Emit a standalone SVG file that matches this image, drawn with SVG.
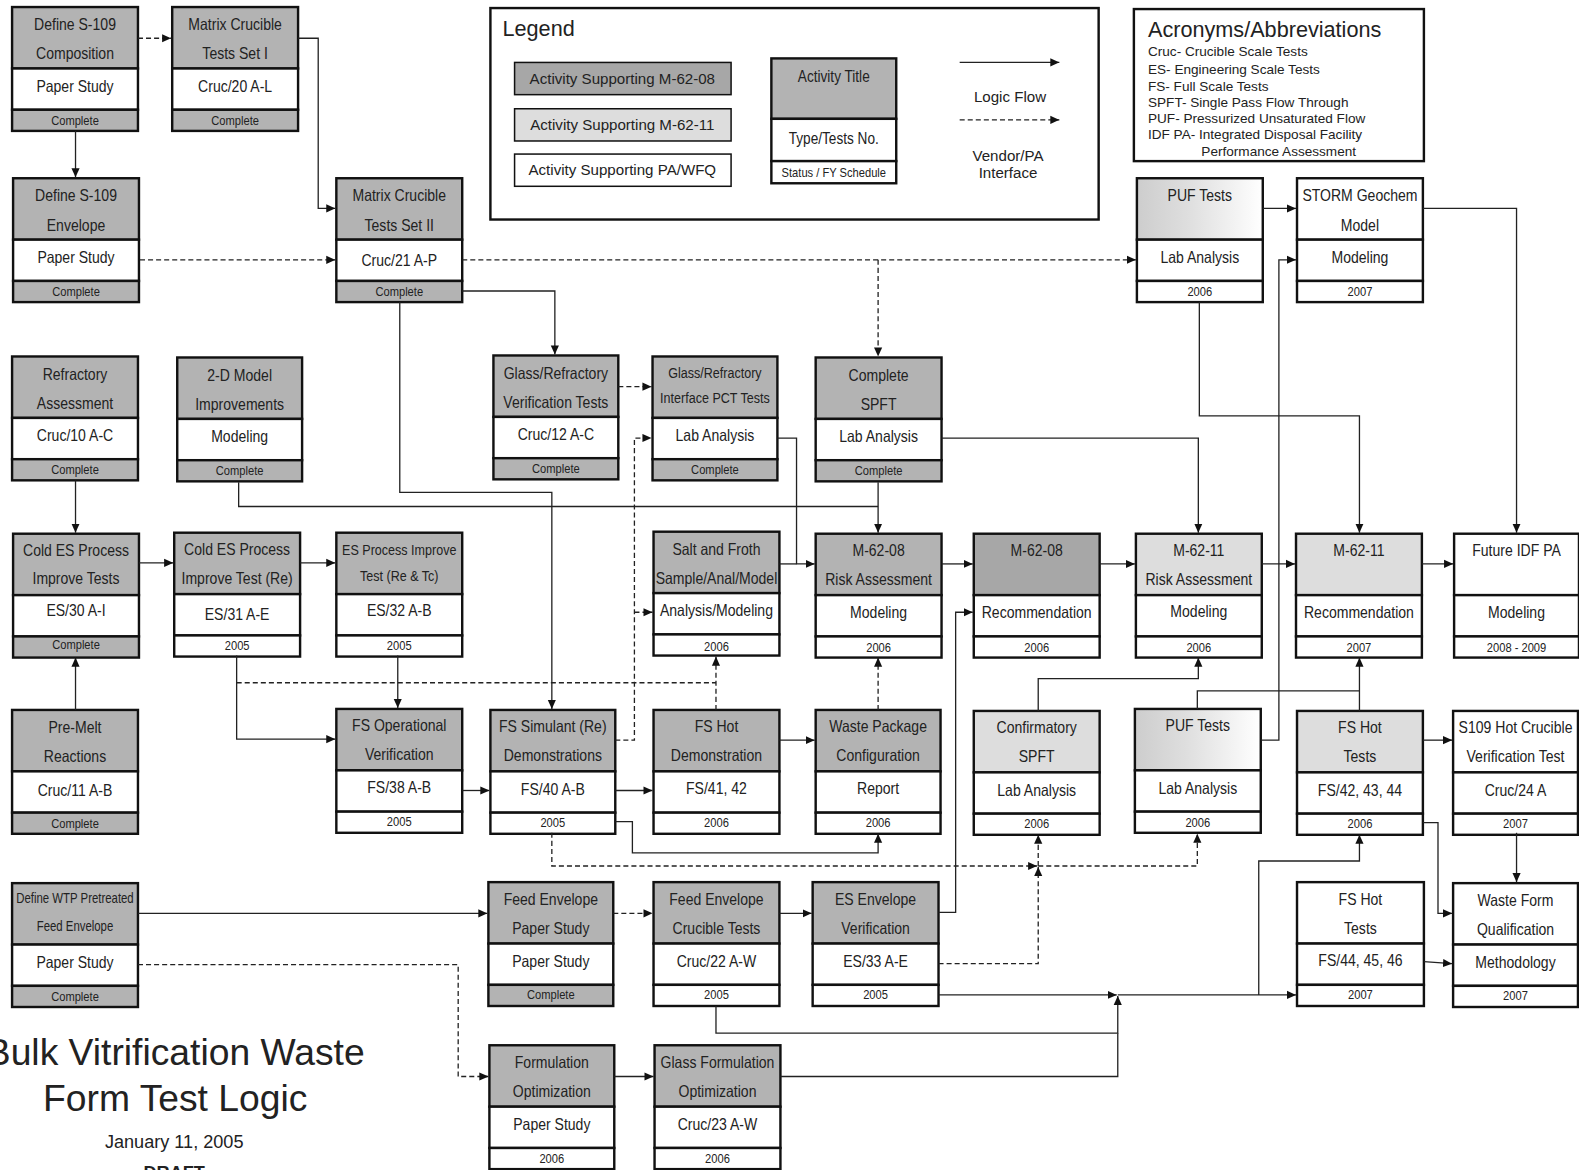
<svg xmlns="http://www.w3.org/2000/svg" width="1579" height="1170" viewBox="0 0 1579 1170">
<defs>
<linearGradient id="puf" x1="0" y1="0" x2="1" y2="0">
<stop offset="0" stop-color="#cdcdcd"/><stop offset="0.4" stop-color="#dedede"/><stop offset="1" stop-color="#ffffff"/>
</linearGradient>
<marker id="ah" viewBox="0 0 10 10" refX="10" refY="5" markerWidth="9" markerHeight="9" markerUnits="userSpaceOnUse" orient="auto"><path d="M0,0.5 L10,5 L0,9.5 z" fill="#111"/></marker>
<style>
rect{stroke:#111;stroke-width:2.4}
.dk{fill:#b3b3b3}.dd{fill:#a7a7a7}.lt{fill:#dddddd}.wh{fill:#ffffff}.gr{fill:url(#puf)}
text{fill:#222}
.t,.t15,.t14,.st{font-family:'Liberation Sans',Arial,sans-serif;text-anchor:middle}
.t{font-size:17px}.t15{font-size:15.2px}.t14{font-size:13.8px}.st{font-size:13.5px}
.a{font-family:'Liberation Sans',Arial,sans-serif}
.c path{fill:none;stroke:#222;stroke-width:1.3;marker-end:url(#ah)}
.c path.n{marker-end:none}
.c path.d{stroke-dasharray:5,3}
</style>
</defs>
<rect x="0" y="0" width="1579" height="1170" style="fill:#fff;stroke:none"/>
<g transform="scale(1.007)">

<g id="legend">
<rect x="487" y="8" width="604" height="210" class="wh"/>
<text class="a" x="499" y="36" font-size="21.5">Legend</text>
<rect x="511" y="62" width="215" height="32" class="dd" style="stroke-width:1.5"/>
<text class="a" x="618" y="83" font-size="15" text-anchor="middle">Activity Supporting M-62-08</text>
<rect x="511" y="108" width="215" height="32" class="lt" style="stroke-width:1.5"/>
<text class="a" x="618" y="129" font-size="15" text-anchor="middle">Activity Supporting M-62-11</text>
<rect x="511" y="153" width="215" height="32" class="wh" style="stroke-width:1.5"/>
<text class="a" x="618" y="174" font-size="15" text-anchor="middle">Activity Supporting PA/WFQ</text>
<g id="legend-node" transform="translate(766,58)">
<rect width="124" height="60" class="dk"/><rect y="60" width="124" height="42" class="wh"/><rect y="102" width="124" height="22" class="wh"/>
<g transform="scale(0.82,1)">
<text class="t" x="75.6" y="23" style="font-size:16.5px">Activity Title</text>
<text class="t" x="75.6" y="85" style="font-size:16.5px">Type/Tests No.</text>
<text class="st" x="75.6" y="118">Status / FY Schedule</text>
</g>
</g>
<g class="c"><path d="M953,62 H1052"/><path class="d" d="M953,119 H1052"/></g>
<text class="a" x="1003" y="101" font-size="15" text-anchor="middle">Logic Flow</text>
<text class="a" x="1001" y="160" font-size="15" text-anchor="middle">Vendor/PA</text>
<text class="a" x="1001" y="177" font-size="15" text-anchor="middle">Interface</text>
</g>

<g id="acronyms">
<rect x="1126" y="9" width="288" height="151" class="wh"/>
<text class="a" x="1140" y="37" font-size="21.5">Acronyms/Abbreviations</text>
<g class="a" font-size="13.5">
<text x="1140" y="56">Cruc- Crucible Scale Tests</text>
<text x="1140" y="73">ES- Engineering Scale Tests</text>
<text x="1140" y="90">FS- Full Scale Tests</text>
<text x="1140" y="106">SPFT- Single Pass Flow Through</text>
<text x="1140" y="122">PUF- Pressurized Unsaturated Flow</text>
<text x="1140" y="138">IDF PA- Integrated Disposal Facility</text>
<text x="1193" y="155">Performance Assessment</text>
</g>
</g>

<g id="title" class="a" text-anchor="middle">
<text x="174" y="1058" font-size="37">Bulk Vitrification Waste</text>
<text x="174" y="1103" font-size="37">Form Test Logic</text>
<text x="173" y="1140" font-size="18">January 11, 2005</text>
<text x="173" y="1171" font-size="18" font-weight="bold">DRAFT</text>
</g>

<g id="nodes">
<g id="n1" transform="translate(12,7)"><rect width="125" height="61" class="dk"/><rect y="61" width="125" height="41" class="wh"/><rect y="102" width="125" height="21" class="dk"/>
<g transform="scale(0.82,1)"><text class="t" x="76.2" y="23">Define S-109</text><text class="t" x="76.2" y="52">Composition</text><text class="t" x="76.2" y="84">Paper Study</text><text class="st" x="76.2" y="117">Complete</text></g></g>
<g id="n2" transform="translate(171,7)"><rect width="125" height="61" class="dk"/><rect y="61" width="125" height="41" class="wh"/><rect y="102" width="125" height="21" class="dk"/>
<g transform="scale(0.82,1)"><text class="t" x="76.2" y="23">Matrix Crucible</text><text class="t" x="76.2" y="52">Tests Set I</text><text class="t" x="76.2" y="84">Cruc/20 A-L</text><text class="st" x="76.2" y="117">Complete</text></g></g>
<g id="n3" transform="translate(13,177)"><rect width="125" height="61" class="dk"/><rect y="61" width="125" height="41" class="wh"/><rect y="102" width="125" height="21" class="dk"/>
<g transform="scale(0.82,1)"><text class="t" x="76.2" y="23">Define S-109</text><text class="t" x="76.2" y="52">Envelope</text><text class="t" x="76.2" y="84">Paper Study</text><text class="st" x="76.2" y="117">Complete</text></g></g>
<g id="n4" transform="translate(334,177)"><rect width="125" height="61" class="dk"/><rect y="61" width="125" height="41" class="wh"/><rect y="102" width="125" height="21" class="dk"/>
<g transform="scale(0.82,1)"><text class="t" x="76.2" y="23">Matrix Crucible</text><text class="t" x="76.2" y="52">Tests Set II</text><text class="t" x="76.2" y="87">Cruc/21 A-P</text><text class="st" x="76.2" y="117">Complete</text></g></g>
<g id="n5" transform="translate(1129,177)"><rect width="125" height="61" class="gr"/><rect y="61" width="125" height="41" class="wh"/><rect y="102" width="125" height="21" class="wh"/>
<g transform="scale(0.82,1)"><text class="t" x="76.2" y="23">PUF Tests</text><text class="t" x="76.2" y="84">Lab Analysis</text><text class="st" x="76.2" y="117">2006</text></g></g>
<g id="n6" transform="translate(1288,177)"><rect width="125" height="61" class="wh"/><rect y="61" width="125" height="41" class="wh"/><rect y="102" width="125" height="21" class="wh"/>
<g transform="scale(0.82,1)"><text class="t" x="76.2" y="23">STORM Geochem</text><text class="t" x="76.2" y="52">Model</text><text class="t" x="76.2" y="84">Modeling</text><text class="st" x="76.2" y="117">2007</text></g></g>
<g id="n7" transform="translate(12,354)"><rect width="125" height="61" class="dk"/><rect y="61" width="125" height="41" class="wh"/><rect y="102" width="125" height="21" class="dk"/>
<g transform="scale(0.82,1)"><text class="t" x="76.2" y="23">Refractory</text><text class="t" x="76.2" y="52">Assessment</text><text class="t" x="76.2" y="84">Cruc/10 A-C</text><text class="st" x="76.2" y="117">Complete</text></g></g>
<g id="n8" transform="translate(176,355)"><rect width="124" height="61" class="dk"/><rect y="61" width="124" height="41" class="wh"/><rect y="102" width="124" height="21" class="dk"/>
<g transform="scale(0.82,1)"><text class="t" x="75.6" y="23">2-D Model</text><text class="t" x="75.6" y="52">Improvements</text><text class="t" x="75.6" y="84">Modeling</text><text class="st" x="75.6" y="117">Complete</text></g></g>
<g id="n9" transform="translate(490,353)"><rect width="124" height="61" class="dk"/><rect y="61" width="124" height="41" class="wh"/><rect y="102" width="124" height="21" class="dk"/>
<g transform="scale(0.82,1)"><text class="t" x="75.6" y="23">Glass/Refractory</text><text class="t" x="75.6" y="52">Verification Tests</text><text class="t" x="75.6" y="84">Cruc/12 A-C</text><text class="st" x="75.6" y="117">Complete</text></g></g>
<g id="n10" transform="translate(648,354)"><rect width="124" height="61" class="dk"/><rect y="61" width="124" height="41" class="wh"/><rect y="102" width="124" height="21" class="dk"/>
<g transform="scale(0.82,1)"><text class="t15" x="75.6" y="21">Glass/Refractory</text><text class="t15" x="75.6" y="46">Interface PCT Tests</text><text class="t" x="75.6" y="84">Lab Analysis</text><text class="st" x="75.6" y="117">Complete</text></g></g>
<g id="n11" transform="translate(810,355)"><rect width="125" height="61" class="dk"/><rect y="61" width="125" height="41" class="wh"/><rect y="102" width="125" height="21" class="dk"/>
<g transform="scale(0.82,1)"><text class="t" x="76.2" y="23">Complete</text><text class="t" x="76.2" y="52">SPFT</text><text class="t" x="76.2" y="84">Lab Analysis</text><text class="st" x="76.2" y="117">Complete</text></g></g>
<g id="n12" transform="translate(13,530)"><rect width="125" height="61" class="dk"/><rect y="61" width="125" height="41" class="wh"/><rect y="102" width="125" height="21" class="dk"/>
<g transform="scale(0.82,1)"><text class="t" x="76.2" y="22">Cold ES Process</text><text class="t" x="76.2" y="50">Improve Tests</text><text class="t" x="76.2" y="82">ES/30 A-I</text><text class="st" x="76.2" y="114">Complete</text></g></g>
<g id="n13" transform="translate(173,529)"><rect width="125" height="61" class="dk"/><rect y="61" width="125" height="41" class="wh"/><rect y="102" width="125" height="21" class="wh"/>
<g transform="scale(0.82,1)"><text class="t" x="76.2" y="22">Cold ES Process</text><text class="t" x="76.2" y="51">Improve Test (Re)</text><text class="t" x="76.2" y="87">ES/31 A-E</text><text class="st" x="76.2" y="116">2005</text></g></g>
<g id="n14" transform="translate(334,529)"><rect width="125" height="61" class="dk"/><rect y="61" width="125" height="41" class="wh"/><rect y="102" width="125" height="21" class="wh"/>
<g transform="scale(0.82,1)"><text class="t15" x="76.2" y="22">ES Process Improve</text><text class="t15" x="76.2" y="48">Test (Re &amp; Tc)</text><text class="t" x="76.2" y="83">ES/32 A-B</text><text class="st" x="76.2" y="116">2005</text></g></g>
<g id="n15" transform="translate(649,528)"><rect width="125" height="61" class="dk"/><rect y="61" width="125" height="41" class="wh"/><rect y="102" width="125" height="21" class="wh"/>
<g transform="scale(0.82,1)"><text class="t" x="76.2" y="23">Salt and Froth</text><text class="t" x="76.2" y="52">Sample/Anal/Model</text><text class="t" x="76.2" y="84">Analysis/Modeling</text><text class="st" x="76.2" y="118">2006</text></g></g>
<g id="n16" transform="translate(810,530)"><rect width="125" height="61" class="dk"/><rect y="61" width="125" height="41" class="wh"/><rect y="102" width="125" height="21" class="wh"/>
<g transform="scale(0.82,1)"><text class="t" x="76.2" y="22">M-62-08</text><text class="t" x="76.2" y="51">Risk Assessment</text><text class="t" x="76.2" y="84">Modeling</text><text class="st" x="76.2" y="117">2006</text></g></g>
<g id="n17" transform="translate(967,530)"><rect width="125" height="61" class="dd"/><rect y="61" width="125" height="41" class="wh"/><rect y="102" width="125" height="21" class="wh"/>
<g transform="scale(0.82,1)"><text class="t" x="76.2" y="22">M-62-08</text><text class="t" x="76.2" y="84">Recommendation</text><text class="st" x="76.2" y="117">2006</text></g></g>
<g id="n18" transform="translate(1128,530)"><rect width="125" height="61" class="lt"/><rect y="61" width="125" height="41" class="wh"/><rect y="102" width="125" height="21" class="wh"/>
<g transform="scale(0.82,1)"><text class="t" x="76.2" y="22">M-62-11</text><text class="t" x="76.2" y="51">Risk Assessment</text><text class="t" x="76.2" y="83">Modeling</text><text class="st" x="76.2" y="117">2006</text></g></g>
<g id="n19" transform="translate(1287,530)"><rect width="125" height="61" class="lt"/><rect y="61" width="125" height="41" class="wh"/><rect y="102" width="125" height="21" class="wh"/>
<g transform="scale(0.82,1)"><text class="t" x="76.2" y="22">M-62-11</text><text class="t" x="76.2" y="84">Recommendation</text><text class="st" x="76.2" y="117">2007</text></g></g>
<g id="n20" transform="translate(1444,530)"><rect width="124" height="61" class="wh"/><rect y="61" width="124" height="41" class="wh"/><rect y="102" width="124" height="21" class="wh"/>
<g transform="scale(0.82,1)"><text class="t" x="75.6" y="22">Future IDF PA</text><text class="t" x="75.6" y="84">Modeling</text><text class="st" x="75.6" y="117">2008 - 2009</text></g></g>
<g id="n21" transform="translate(12,705)"><rect width="125" height="61" class="dk"/><rect y="61" width="125" height="41" class="wh"/><rect y="102" width="125" height="21" class="dk"/>
<g transform="scale(0.82,1)"><text class="t" x="76.2" y="23">Pre-Melt</text><text class="t" x="76.2" y="52">Reactions</text><text class="t" x="76.2" y="85">Cruc/11 A-B</text><text class="st" x="76.2" y="117">Complete</text></g></g>
<g id="n22" transform="translate(334,704)"><rect width="125" height="61" class="dk"/><rect y="61" width="125" height="41" class="wh"/><rect y="102" width="125" height="21" class="wh"/>
<g transform="scale(0.82,1)"><text class="t" x="76.2" y="22">FS Operational</text><text class="t" x="76.2" y="51">Verification</text><text class="t" x="76.2" y="83">FS/38 A-B</text><text class="st" x="76.2" y="116">2005</text></g></g>
<g id="n23" transform="translate(487,705)"><rect width="124" height="61" class="dk"/><rect y="61" width="124" height="41" class="wh"/><rect y="102" width="124" height="21" class="wh"/>
<g transform="scale(0.82,1)"><text class="t" x="75.6" y="22">FS Simulant (Re)</text><text class="t" x="75.6" y="51">Demonstrations</text><text class="t" x="75.6" y="84">FS/40 A-B</text><text class="st" x="75.6" y="116">2005</text></g></g>
<g id="n24" transform="translate(649,705)"><rect width="125" height="61" class="dk"/><rect y="61" width="125" height="41" class="wh"/><rect y="102" width="125" height="21" class="wh"/>
<g transform="scale(0.82,1)"><text class="t" x="76.2" y="22">FS Hot</text><text class="t" x="76.2" y="51">Demonstration</text><text class="t" x="76.2" y="83">FS/41, 42</text><text class="st" x="76.2" y="116">2006</text></g></g>
<g id="n25" transform="translate(810,705)"><rect width="124" height="61" class="dk"/><rect y="61" width="124" height="41" class="wh"/><rect y="102" width="124" height="21" class="wh"/>
<g transform="scale(0.82,1)"><text class="t" x="75.6" y="22">Waste Package</text><text class="t" x="75.6" y="51">Configuration</text><text class="t" x="75.6" y="83">Report</text><text class="st" x="75.6" y="116">2006</text></g></g>
<g id="n26" transform="translate(967,706)"><rect width="125" height="61" class="lt"/><rect y="61" width="125" height="41" class="wh"/><rect y="102" width="125" height="21" class="wh"/>
<g transform="scale(0.82,1)"><text class="t" x="76.2" y="22">Confirmatory</text><text class="t" x="76.2" y="51">SPFT</text><text class="t" x="76.2" y="84">Lab Analysis</text><text class="st" x="76.2" y="116">2006</text></g></g>
<g id="n27" transform="translate(1127,704)"><rect width="125" height="61" class="gr"/><rect y="61" width="125" height="41" class="wh"/><rect y="102" width="125" height="21" class="wh"/>
<g transform="scale(0.82,1)"><text class="t" x="76.2" y="22">PUF Tests</text><text class="t" x="76.2" y="84">Lab Analysis</text><text class="st" x="76.2" y="117">2006</text></g></g>
<g id="n28" transform="translate(1288,706)"><rect width="125" height="61" class="lt"/><rect y="61" width="125" height="41" class="wh"/><rect y="102" width="125" height="21" class="wh"/>
<g transform="scale(0.82,1)"><text class="t" x="76.2" y="22">FS Hot</text><text class="t" x="76.2" y="51">Tests</text><text class="t" x="76.2" y="84">FS/42, 43, 44</text><text class="st" x="76.2" y="116">2006</text></g></g>
<g id="n29" transform="translate(1443,706)"><rect width="124" height="61" class="wh"/><rect y="61" width="124" height="41" class="wh"/><rect y="102" width="124" height="21" class="wh"/>
<g transform="scale(0.82,1)"><text class="t" x="75.6" y="22">S109 Hot Crucible</text><text class="t" x="75.6" y="51">Verification Test</text><text class="t" x="75.6" y="84">Cruc/24 A</text><text class="st" x="75.6" y="116">2007</text></g></g>
<g id="n30" transform="translate(12,877)"><rect width="125" height="61" class="dk"/><rect y="61" width="125" height="41" class="wh"/><rect y="102" width="125" height="21" class="dk"/>
<g transform="scale(0.82,1)"><text class="t14" x="76.2" y="20">Define WTP Pretreated</text><text class="t14" x="76.2" y="48">Feed Envelope</text><text class="t" x="76.2" y="84">Paper Study</text><text class="st" x="76.2" y="117">Complete</text></g></g>
<g id="n31" transform="translate(485,876)"><rect width="124" height="61" class="dk"/><rect y="61" width="124" height="41" class="wh"/><rect y="102" width="124" height="21" class="dk"/>
<g transform="scale(0.82,1)"><text class="t" x="75.6" y="23">Feed Envelope</text><text class="t" x="75.6" y="52">Paper Study</text><text class="t" x="75.6" y="84">Paper Study</text><text class="st" x="75.6" y="116">Complete</text></g></g>
<g id="n32" transform="translate(649,876)"><rect width="125" height="61" class="dk"/><rect y="61" width="125" height="41" class="wh"/><rect y="102" width="125" height="21" class="wh"/>
<g transform="scale(0.82,1)"><text class="t" x="76.2" y="23">Feed Envelope</text><text class="t" x="76.2" y="52">Crucible Tests</text><text class="t" x="76.2" y="84">Cruc/22 A-W</text><text class="st" x="76.2" y="116">2005</text></g></g>
<g id="n33" transform="translate(807,876)"><rect width="125" height="61" class="dk"/><rect y="61" width="125" height="41" class="wh"/><rect y="102" width="125" height="21" class="wh"/>
<g transform="scale(0.82,1)"><text class="t" x="76.2" y="23">ES Envelope</text><text class="t" x="76.2" y="52">Verification</text><text class="t" x="76.2" y="84">ES/33 A-E</text><text class="st" x="76.2" y="116">2005</text></g></g>
<g id="n34" transform="translate(1288,876)"><rect width="126" height="61" class="wh"/><rect y="61" width="126" height="41" class="wh"/><rect y="102" width="126" height="21" class="wh"/>
<g transform="scale(0.82,1)"><text class="t" x="76.8" y="23">FS Hot</text><text class="t" x="76.8" y="52">Tests</text><text class="t" x="76.8" y="83">FS/44, 45, 46</text><text class="st" x="76.8" y="116">2007</text></g></g>
<g id="n35" transform="translate(1443,877)"><rect width="124" height="61" class="wh"/><rect y="61" width="124" height="41" class="wh"/><rect y="102" width="124" height="21" class="wh"/>
<g transform="scale(0.82,1)"><text class="t" x="75.6" y="23">Waste Form</text><text class="t" x="75.6" y="52">Qualification</text><text class="t" x="75.6" y="84">Methodology</text><text class="st" x="75.6" y="116">2007</text></g></g>
<g id="n36" transform="translate(486,1038)"><rect width="124" height="61" class="dk"/><rect y="61" width="124" height="41" class="wh"/><rect y="102" width="124" height="21" class="wh"/>
<g transform="scale(0.82,1)"><text class="t" x="75.6" y="23">Formulation</text><text class="t" x="75.6" y="51">Optimization</text><text class="t" x="75.6" y="84">Paper Study</text><text class="st" x="75.6" y="117">2006</text></g></g>
<g id="n37" transform="translate(650,1038)"><rect width="125" height="61" class="dk"/><rect y="61" width="125" height="41" class="wh"/><rect y="102" width="125" height="21" class="wh"/>
<g transform="scale(0.82,1)"><text class="t" x="76.2" y="23">Glass Formulation</text><text class="t" x="76.2" y="51">Optimization</text><text class="t" x="76.2" y="84">Cruc/23 A-W</text><text class="st" x="76.2" y="117">2006</text></g></g>
</g>

<g id="connectors" class="c">
<path class="d" d="M137,38 H170"/>
<path d="M296,38 H316 V207 H333"/>
<path d="M75,130 V176"/>
<path class="d" d="M139,258 H333"/>
<path class="d" d="M459,258 H1128"/>
<path class="d" d="M872,258 V354"/>
<path d="M459,289 H551 V352"/>
<path d="M397,300 V489 H548 V704"/>
<path class="n" d="M237,479 V503 H872"/>
<path d="M872,479 V529"/>
<path d="M1254,207 H1287"/>
<path d="M1413,207 H1506 V529"/>
<path d="M1191,300 V413 H1350 V529"/>
<path d="M935,435 H1190 V529"/>
<path d="M772,435 H791 V560 H809"/>
<path class="n" d="M774,560 H791"/>
<path class="d" d="M614,384 H647"/>
<path class="d" d="M611,735 H630 V435 H647"/>
<path class="d" d="M630,608 H648"/>
<path d="M138,559 H172"/>
<path d="M298,559 H333"/>
<path d="M75,477 V529"/>
<path d="M75,705 V653"/>
<path d="M235,651 V734 H333"/>
<path class="d n" d="M235,678 H711"/>
<path class="d" d="M711,705 V652"/>
<path d="M395,651 V703"/>
<path class="d" d="M872,705 V653"/>
<path d="M459,785 H486"/>
<path d="M611,785 H648"/>
<path d="M774,735 H809"/>
<path d="M611,816 H628 V847 H872 V828"/>
<path class="d" d="M548,827 V860 H1030"/>
<path class="d" d="M1031,860 V829"/>
<path class="d" d="M1031,860 H1189 V828"/>
<path class="d" d="M932,957 H1031 V861"/>
<path d="M932,906 H949 V608 H966"/>
<path d="M935,560 H966"/>
<path d="M1092,560 H1127"/>
<path d="M1253,560 H1286"/>
<path d="M1412,560 H1443"/>
<path d="M1031,706 V674 H1190 V653"/>
<path class="n" d="M1189,704 V686 H1350"/>
<path d="M1350,706 V653"/>
<path d="M1252,735 H1270 V258 H1287"/>
<path d="M1413,735 H1442"/>
<path d="M1506,827 V876"/>
<path d="M1413,817 H1428 V907 H1442"/>
<path d="M1414,955 L1442,957"/>
<path d="M137,907 H484"/>
<path class="d" d="M137,958 H455 V1069 H485"/>
<path class="d" d="M609,907 H648"/>
<path d="M774,907 H806"/>
<path d="M932,988 H1109"/>
<path d="M1110,988 H1287"/>
<path d="M1250,988 V855 H1350 V829"/>
<path d="M711,999 V1026 H1110 V989"/>
<path class="n" d="M775,1069 H1110 V1026"/>
<path d="M610,1069 H649"/>
</g>
</g>
</svg>
